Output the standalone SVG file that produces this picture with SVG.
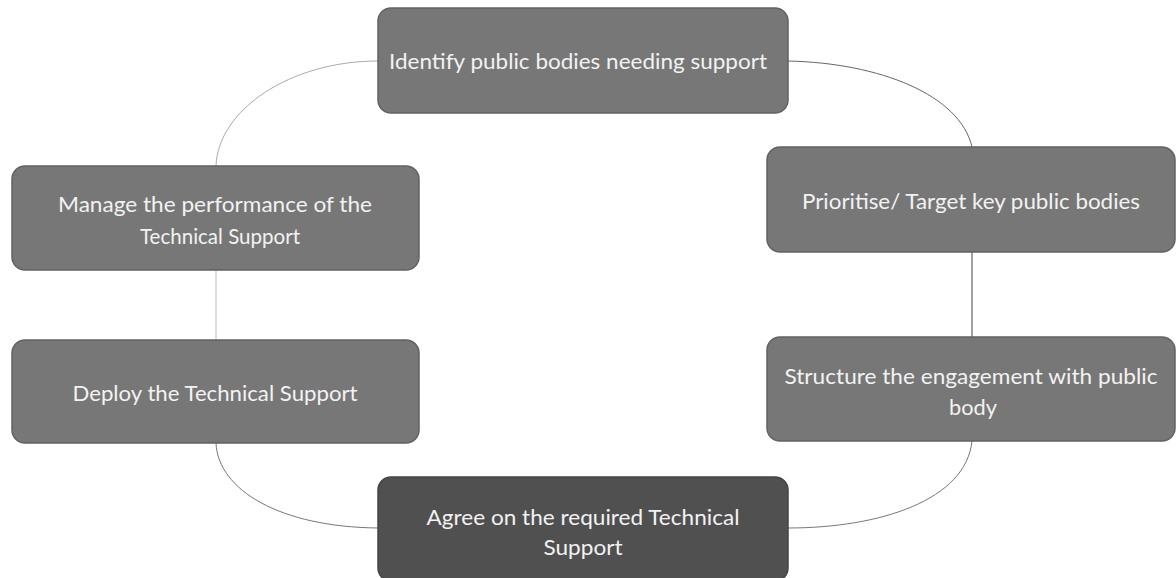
<svg xmlns="http://www.w3.org/2000/svg" width="1176" height="578" viewBox="0 0 1176 578">
<style>
.box{fill:#777777;stroke:#626262;stroke-width:1.5}
.dark{fill:#505050;stroke:#444444;stroke-width:1.5}
.lbl{font-family:Lato,"Open Sans","Liberation Sans",sans-serif;font-size:22px;fill:#f2f2f2;text-anchor:middle}
.con{fill:none;stroke-width:1}
</style>
<rect width="1176" height="578" fill="#ffffff"/>
<g id="connectors">
<path class="con" stroke="#666666" d="M788,61 C880,63 960,95 972,147"/>
<path class="con" stroke="#444444" d="M972,252 L972,337"/>
<path class="con" stroke="#777777" d="M972,441 C966,500 880,528 788,528"/>
<path class="con" stroke="#777777" d="M378,528 C280,527 218,490 216,443"/>
<path class="con" stroke="#bbbbbb" d="M216,270 L216,340"/>
<path class="con" stroke="#aaaaaa" d="M216,166 C218,110 290,61 378,61"/>
</g>
<g id="n1">
<rect class="box" x="378" y="8" width="410" height="105" rx="13"/>
<text class="lbl" x="578" y="69" textLength="378" lengthAdjust="spacingAndGlyphs">Identify public bodies needing support</text>
</g>
<g id="n2">
<rect class="box" x="767" y="147" width="408" height="105" rx="13"/>
<text class="lbl" x="971" y="209" textLength="338" lengthAdjust="spacingAndGlyphs">Prioritise/ Target key public bodies</text>
</g>
<g id="n3">
<rect class="box" x="767" y="337" width="408" height="104" rx="13"/>
<text class="lbl" x="971" y="384" textLength="373" lengthAdjust="spacingAndGlyphs">Structure the engagement with public</text>
<text class="lbl" x="973" y="415" textLength="48" lengthAdjust="spacingAndGlyphs">body</text>
</g>
<g id="n4">
<rect class="dark" x="378" y="477" width="410" height="104" rx="13"/>
<text class="lbl" x="583" y="525" textLength="313" lengthAdjust="spacingAndGlyphs">Agree on the required Technical</text>
<text class="lbl" x="583" y="555" textLength="79" lengthAdjust="spacingAndGlyphs">Support</text>
</g>
<g id="n5">
<rect class="box" x="12" y="340" width="407" height="103" rx="13"/>
<text class="lbl" x="215" y="401" textLength="285" lengthAdjust="spacingAndGlyphs">Deploy the Technical Support</text>
</g>
<g id="n6">
<rect class="box" x="12" y="166" width="407" height="104" rx="13"/>
<text class="lbl" x="215" y="212" textLength="314" lengthAdjust="spacingAndGlyphs">Manage the performance of the</text>
<text class="lbl" x="220" y="244" textLength="160" lengthAdjust="spacingAndGlyphs">Technical Support</text>
</g>
</svg>
